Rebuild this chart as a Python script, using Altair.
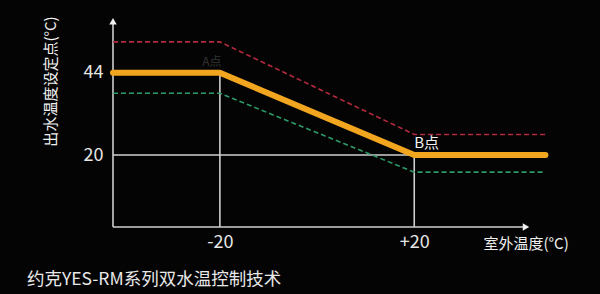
import altair as alt
import pandas as pd

# ---- data ----
outdoor_x = [-42, -20, 20, 47]
setpoint_main = [44, 44, 20, 20]
setpoint_upper = [53, 53, 26, 26]
setpoint_lower = [38, 38, 15, 15]

x_ticks = [-20, 20]
y_ticks = [20, 44]

# guide segments (axes + reference lines), in data units
seg_x = [-42, -20, 20, -42, -42]
seg_x2 = [20, -20, 20, 43, -42]
seg_y = [20, -1, -1, -1, -1]
seg_y2 = [20, 44, 20, -1, 59]

arrow_x = [-42, 43]
arrow_y = [59, -1]
arrow_shape = ["triangle-up", "triangle-right"]

label_text = ["A点", "B点"]
label_x = [-20, 20]
label_y = [44, 20]

x_title = "室外温度(°C)"
y_title = "出水温度设定点(°C)"
caption = "约克YES-RM系列双水温控制技术"

FONT = "Noto Sans CJK SC"
X_DOMAIN = [-42, 50]
Y_DOMAIN = [-1, 62]

main_df = pd.DataFrame({"x": outdoor_x, "y": setpoint_main})
dash_df = pd.concat([
    pd.DataFrame({"x": outdoor_x, "y": setpoint_upper, "s": "upper"}),
    pd.DataFrame({"x": outdoor_x, "y": setpoint_lower, "s": "lower"}),
])
seg_df = pd.DataFrame({"x": seg_x, "x2": seg_x2, "y": seg_y, "y2": seg_y2})
arrow_df = pd.DataFrame({"x": arrow_x, "y": arrow_y, "shape": arrow_shape})
lab_df = pd.DataFrame({"x": label_x, "y": label_y, "t": label_text})

xs = alt.Scale(domain=X_DOMAIN, nice=False, zero=False)
ys = alt.Scale(domain=Y_DOMAIN, nice=False, zero=False)

x_axis = alt.Axis(
    values=x_ticks, domain=False, ticks=False, grid=False,
    labelExpr="datum.value > 0 ? '+' + toString(datum.value) : toString(datum.value)",
    labelFontSize=18, labelColor="#e6e6e6", labelPadding=6, labelFont=FONT,
    title=x_title, titleFont=FONT, titleFontSize=15, titleColor="#f0f0f0",
    titleFontWeight="normal", titleX=370, titleY=16, titleAlign="left",
    titleBaseline="middle",
)
y_axis = alt.Axis(
    values=y_ticks, domain=False, ticks=False, grid=False,
    labelFontSize=18, labelColor="#e6e6e6", labelPadding=10, labelFont=FONT,
    title=y_title, titleFont=FONT, titleFontSize=15, titleColor="#f0f0f0",
    titleFontWeight="normal", titleX=-63, titleY=70, titleAngle=270,
    titleAlign="center", titleBaseline="middle",
)

guides = alt.Chart(seg_df).mark_rule(color="#cfcfcf", strokeWidth=1.6).encode(
    x=alt.X("x:Q", scale=xs, axis=x_axis),
    x2="x2:Q",
    y=alt.Y("y:Q", scale=ys, axis=y_axis),
    y2="y2:Q",
)

arrows = alt.Chart(arrow_df).mark_point(filled=True, color="#f0f0f0", size=55, opacity=1).encode(
    x=alt.X("x:Q", scale=xs),
    y=alt.Y("y:Q", scale=ys),
    shape=alt.Shape("shape:N", scale=None),
)

dashed = alt.Chart(dash_df).mark_line(strokeWidth=1.6, strokeDash=[5, 3]).encode(
    x=alt.X("x:Q", scale=xs),
    y=alt.Y("y:Q", scale=ys),
    color=alt.Color("s:N", scale=alt.Scale(domain=["upper", "lower"],
                                           range=["#b42a3e", "#2e9a68"]), legend=None),
    detail="s:N",
)

main = alt.Chart(main_df).mark_line(strokeWidth=6, color="#f2a51f",
                                    strokeCap="round", strokeJoin="round").encode(
    x=alt.X("x:Q", scale=xs),
    y=alt.Y("y:Q", scale=ys),
)

lab_a = alt.Chart(lab_df[lab_df.t == "A点"]).mark_text(
    font=FONT, fontSize=12, color="#333333", align="center", baseline="middle",
    dx=-8, dy=-11,
).encode(x=alt.X("x:Q", scale=xs), y=alt.Y("y:Q", scale=ys), text="t:N")

lab_b = alt.Chart(lab_df[lab_df.t == "B点"]).mark_text(
    font=FONT, fontSize=15, color="#f4f4f4", align="left", baseline="middle",
    dx=0, dy=-12,
).encode(x=alt.X("x:Q", scale=xs), y=alt.Y("y:Q", scale=ys), text="t:N")

chart = alt.layer(guides, dashed, main, arrows, lab_a, lab_b).properties(
    width=447, height=216,
    padding={"left": 113, "top": 11, "right": 40, "bottom": 67},
    autosize=alt.AutoSizeParams(type="none"),
    background="#040404",
    title=alt.TitleParams(
        text=caption, orient="bottom", anchor="start", frame="group", font=FONT,
        fontSize=17.5, fontWeight="normal", color="#e8e8e8", dx=-86, offset=20,
    ),
).configure_view(strokeWidth=0)

chart.save("out.html", embed_options={"renderer": "svg", "actions": False})
